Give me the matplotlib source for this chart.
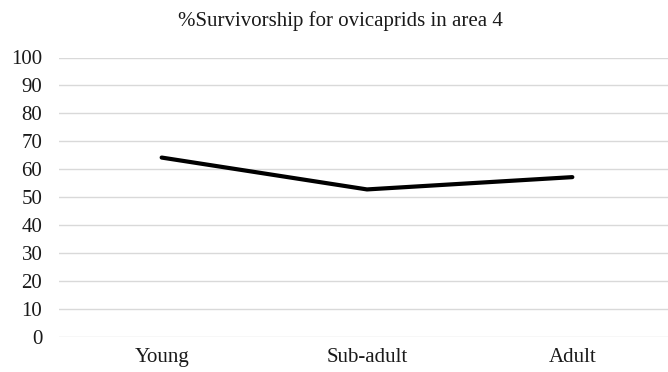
import matplotlib.pyplot as plt

# survivorship data
stages = ['Young', 'Sub-adult', 'Adult']
survivorship = [64.2, 52.8, 57.2]
y_ticks = list(range(0, 101, 10))

plt.rcParams['font.family'] = ['Liberation Serif', 'DejaVu Serif']

fig = plt.figure(figsize=(6.68, 3.72), dpi=100)
ax = fig.add_axes([59 / 668, 1 - 337 / 372, 616 / 668, (337 - 57.5) / 372])

x = range(len(stages))
ax.plot(x, survivorship, color='black', linewidth=3, solid_capstyle='round', zorder=3)

ax.set_xlim(-0.5, len(stages) - 0.5)
ax.set_ylim(0, 100)
ax.set_yticks(y_ticks)
ax.set_xticks(list(x))
ax.set_xticklabels(stages)
ax.grid(axis='y', color='#d9d9d9', linewidth=1)
ax.set_axisbelow(True)
for s in ax.spines.values():
    s.set_visible(False)
ax.tick_params(axis='both', length=0, labelsize=15, colors='#1a1a1a')
ax.tick_params(axis='y', pad=12)
ax.tick_params(axis='x', pad=8)

fig.text(340 / 668, 1 - 21 / 372, '%Survivorship for ovicaprids in area 4',
         ha='center', va='center', fontsize=15, color='#1a1a1a')

fig.savefig('out.png', dpi=100)
